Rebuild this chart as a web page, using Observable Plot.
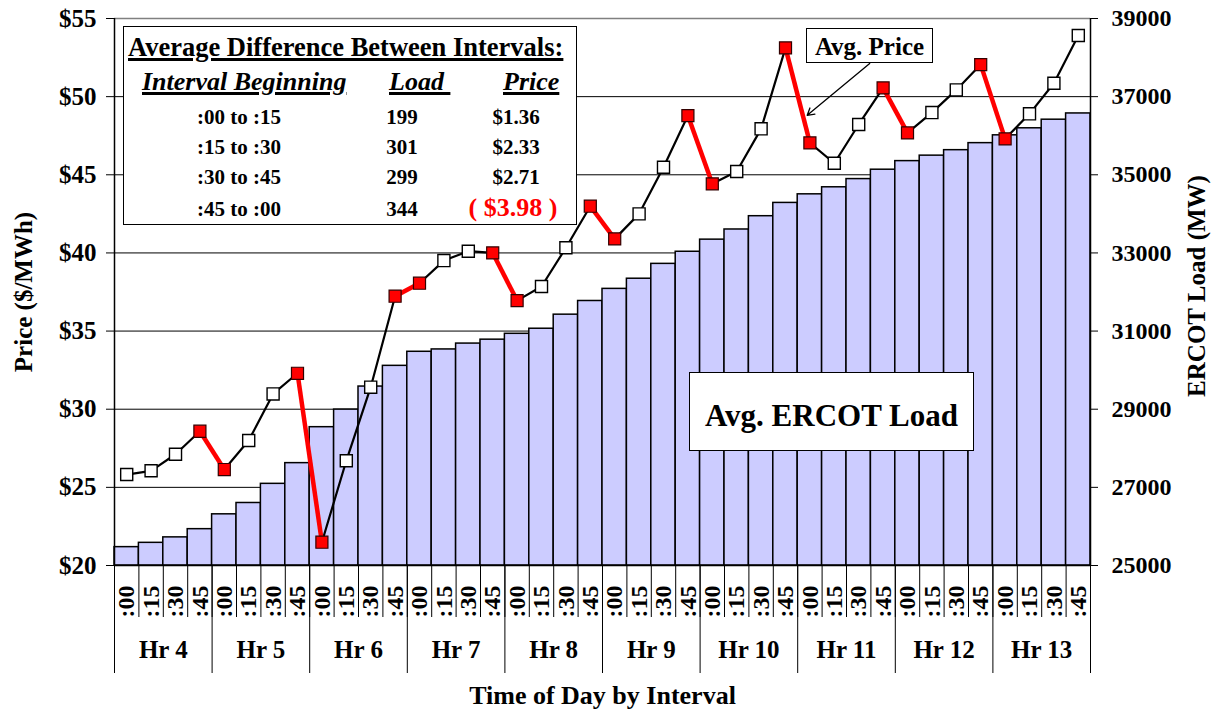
<!DOCTYPE html>
<html><head><meta charset="utf-8">
<script src="https://cdn.jsdelivr.net/npm/d3@7"></script>
<script src="https://cdn.jsdelivr.net/npm/@observablehq/plot@0.6"></script>
<style>
html,body{margin:0;padding:0;background:#fff;}
#wrap{position:relative;width:1212px;height:719px;font-family:"Liberation Serif","Times New Roman",serif;font-weight:bold;color:#000;overflow:hidden;}
.abs{position:absolute;white-space:pre;line-height:1;}
.box{position:absolute;background:#fff;border:1.5px solid #000;box-sizing:border-box;}
.ul{text-decoration:underline;text-decoration-thickness:2.5px;text-underline-offset:2px;}
</style></head><body><div id="wrap"></div>
<script>
// ---- data ----
const hours = ["Hr 4","Hr 5","Hr 6","Hr 7","Hr 8","Hr 9","Hr 10","Hr 11","Hr 12","Hr 13"];
const minutes = [":00",":15",":30",":45"];
const load = [25470,25580,25720,25930, 26310,26600,27090,27620, 28540,28990,29580,30110,
  30470,30530,30680,30780, 30930,31060,31420,31770, 32080,32340,32720,33030,
  33340,33600,33940,34280, 34500,34680,34890,35130, 35350,35490,35630,35810,
  36010,36190,36410,36570];
const price = [25.82,26.06,27.12,28.59, 26.14,28.00,30.98,32.30, 21.49,26.70,31.41,37.23,
  38.06,39.51,40.11,40.00, 36.95,37.85,40.33,42.99, 40.90,42.50,45.48,48.79,
  44.42,45.21,47.94,53.12, 47.04,45.74,48.22,50.56, 47.68,48.98,50.43,52.05,
  47.30,48.90,50.86,53.91];
const priceTicks = [20,25,30,35,40,45,50,55];
const loadTicks = [25000,27000,29000,31000,33000,35000,37000,39000];
const tableIntervals = [":00 to :15",":15 to :30",":30 to :45",":45 to :00"];
const tableLoad = [199,301,299,344];
const tablePrice = [1.36,2.33,2.71,-3.98];

// ---- derived ----
const loadToY = d3.scaleLinear().domain([25000,39000]).range([20,55]);
const rows = load.map((l,i)=>({i, hour: hours[Math.floor(i/4)], minute: minutes[i%4], load: l, price: price[i]}));
const redSet = new Set();
const redSegs = [];
rows.forEach((d,i)=>{ if (d.minute === ":45" && i+1 < rows.length) { redSet.add(i); redSet.add(i+1); redSegs.push({a: d, b: rows[i+1]}); }});
rows.forEach(d=>d.red = redSet.has(d.i));
const cx = d => d.i + 0.5;
// callout arrow to the segment Hr10 :45 -> Hr11 :00
const seg = redSegs.find(s => s.a.hour === "Hr 10");
const t = 0.71;
const callout = [{x1: 30.95, y1: 52.12,
  x2: cx(seg.a) + t*(cx(seg.b)-cx(seg.a)) + 0.18, y2: seg.a.price + t*(seg.b.price-seg.a.price)}];

const chart = Plot.plot({
  width: 1212, height: 719,
  marginLeft: 114, marginRight: 122, marginTop: 18, marginBottom: 154,
  x: {domain: [0,40], axis: null},
  y: {domain: [20,55], axis: null},
  style: {fontFamily: '"Liberation Serif","Times New Roman",serif', fontWeight: "bold", fontSize: "24px", background: "white", overflow: "visible", color: "black"},
  marks: [
    Plot.ruleY(priceTicks.slice(1,-1), {stroke: "#000", strokeWidth: 1}),
    Plot.ruleY([55], {stroke: "#808080", strokeWidth: 1.5}),
    Plot.rect(rows, {x1: d=>d.i, x2: d=>d.i+1, y1: 20, y2: d=>loadToY(d.load), fill: "#CCCCFF", stroke: "#000", strokeWidth: 1.5}),
    Plot.ruleY([20], {stroke: "#000", strokeWidth: 1.5}),
    Plot.ruleX([0,40], {stroke: "#000", strokeWidth: 1.5}),
    Plot.line(rows, {x: cx, y: "price", stroke: "#000", strokeWidth: 2.2}),
    Plot.link(redSegs, {x1: d=>cx(d.a), y1: d=>d.a.price, x2: d=>cx(d.b), y2: d=>d.b.price, stroke: "#ff0000", strokeWidth: 4.5}),
    Plot.dot(rows.filter(d=>!d.red), {x: cx, y: "price", symbol: "square", r: 6.8, fill: "white", stroke: "#000", strokeWidth: 1.4}),
    Plot.dot(rows.filter(d=>d.red), {x: cx, y: "price", symbol: "square", r: 6.8, fill: "#ff0000", stroke: "#300", strokeWidth: 1.2}),
    Plot.arrow(callout, {x1: "x1", y1: "y1", x2: "x2", y2: "y2", stroke: "#000", strokeWidth: 1.3, headLength: 9}),
    Plot.axisY(priceTicks, {anchor: "left", tickSize: 8, tickPadding: 10, tickFormat: d=>"$"+d, label: null, fontSize: 25}),
    Plot.axisY(loadTicks.map(v=>loadToY(v)), {anchor: "right", tickSize: 7, tickPadding: 14, tickFormat: d=>String(Math.round(loadToY.invert(d))), label: null, fontSize: 24}),
    Plot.axisX(d3.range(0,41), {anchor: "bottom", tickSize: 52, tickFormat: ()=>"", label: null}),
    Plot.axisX(d3.range(0,41,4), {anchor: "bottom", tickSize: 108, tickFormat: ()=>"", label: null}),
    Plot.text(rows, {x: cx, frameAnchor: "bottom", dy: 20, text: "minute", rotate: -90, textAnchor: "end", lineAnchor: "middle", fontSize: 24}),
    Plot.text(hours, {x: (d,i)=>4*i+2, frameAnchor: "bottom", dy: 92, text: d=>d, fontSize: 25}),
    Plot.text(["Price ($/MWh)"], {frameAnchor: "left", dx: -91, rotate: -90, textAnchor: "middle", lineAnchor: "middle", text: d=>d, fontSize: 25}),
    Plot.text(["ERCOT Load (MW)"], {frameAnchor: "right", dx: 106, dy: -6, rotate: -90, textAnchor: "middle", lineAnchor: "middle", text: d=>d, fontSize: 25}),
    Plot.text(["Time of Day by Interval"], {frameAnchor: "bottom", dy: 138, text: d=>d, fontSize: 26})
  ]
});
const wrap = document.getElementById("wrap");
wrap.appendChild(chart);

function box(l, t, w, h) {
  const b = document.createElement("div");
  b.className = "box";
  Object.assign(b.style, {left: l+"px", top: t+"px", width: w+"px", height: h+"px"});
  wrap.appendChild(b);
  return b;
}
function place(text, x, baseline, size, opts = {}) {
  const s = document.createElement("div");
  s.className = "abs" + (opts.underline ? " ul" : "");
  s.textContent = text;
  s.style.fontSize = size + "px";
  s.style.top = (baseline - 0.8375*size) + "px";
  s.style.left = x + "px";
  if (opts.center) s.style.transform = "translateX(-50%)";
  if (opts.italic) s.style.fontStyle = "italic";
  if (opts.color) s.style.color = opts.color;
  wrap.appendChild(s);
  return s;
}

// table box
box(123, 26, 454, 199);
place("Average Difference Between Intervals:", 128, 56, 26.5, {underline: true});
place("Interval Beginning", 142, 91, 26, {underline: true, italic: true});
place("Load\u00a0", 389, 91, 26, {underline: true, italic: true});
place("Price", 503, 91, 26, {underline: true, italic: true});
const baselines = [125,155,185,217];
tableIntervals.forEach((lab,k)=>{
  place(lab, 239, baselines[k], 21, {center: true});
  place(String(tableLoad[k]), 402, baselines[k], 21, {center: true});
  const p = tablePrice[k];
  if (p < 0) place("( $" + Math.abs(p).toFixed(2) + " )", 513, baselines[k], 26, {center: true, color: "#ff0000"});
  else place("$" + p.toFixed(2), 516, baselines[k], 21, {center: true});
});

// Avg. Price label
box(806, 28, 127, 35);
place("Avg. Price", 869.5, 55, 25, {center: true});

// Avg. ERCOT Load label
box(689, 372, 285, 79);
place("Avg. ERCOT Load", 831.5, 426, 31, {center: true});
</script></body></html>
